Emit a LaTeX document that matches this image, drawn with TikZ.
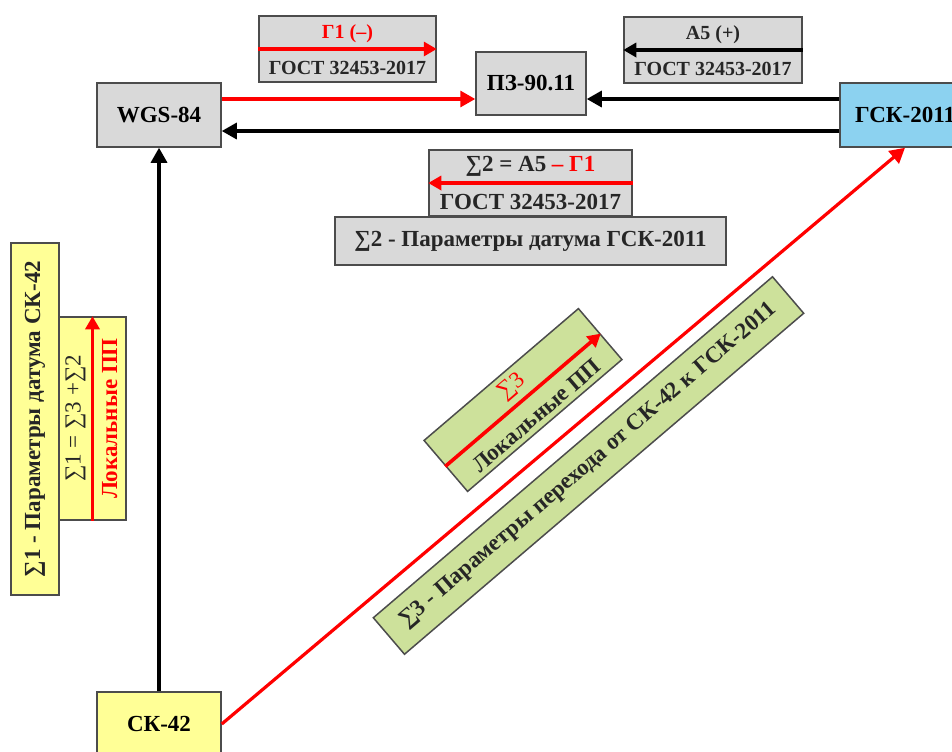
\documentclass[tikz,border=0pt]{standalone}
\usepackage{fontspec}
\setmainfont{Liberation Serif}
\usetikzlibrary{arrows.meta,calc}

\definecolor{boxgray}{RGB}{217,217,217}
\definecolor{skyellow}{RGB}{255,255,150}
\definecolor{gskblue}{RGB}{140,210,240}
\definecolor{lpgreen}{RGB}{205,225,155}
\definecolor{txtdark}{RGB}{38,38,38}

\begin{document}
\begin{tikzpicture}[x=0.5pt,y=0.5pt,
	sqnode/.style={rectangle, draw=black!70, fill=boxgray, line width=0.75pt, inner sep=1pt, font=\fontsize{11.5}{13}\selectfont\bfseries},
	lblbox/.style={rectangle, draw=black!70, fill=boxgray, line width=0.75pt, inner sep=0pt},
	lbltxt/.style={inner sep=0pt, text=txtdark, font=\fontsize{10}{12}\selectfont\bfseries},
	bigtxt/.style={inner sep=0pt, text=txtdark, font=\fontsize{11.5}{13}\selectfont\bfseries},
	mainarr/.style={line width=1.6pt, -{Triangle[length=7.5pt,width=8pt]}},
	lblarr/.style={line width=1.8pt, -{Triangle[length=6.5pt,width=7pt]}}]
	\useasboundingbox (0,0) rectangle (952,-751);
	\clip (0,0) rectangle (952,-751);

	% coordinate systems
	\node[sqnode, minimum width=62pt, minimum height=32pt] (wgs) at (159,-115) {WGS-84};
	\node[sqnode, minimum width=55pt, minimum height=31.5pt] (pz) at (531,-83.5) {ПЗ-90.11};
	\node[sqnode, fill=gskblue, minimum width=65pt, minimum height=32pt] (gsk) at (905,-115) {ГСК-2011};
	\node[sqnode, fill=skyellow, minimum width=62pt, minimum height=32pt] (sk) at (159,-724) {СК-42};

	% GOST labels on top
	\node[lblbox, minimum width=88.5pt, minimum height=33pt] (g1box) at (347.5,-49) {};
	\node[lbltxt, text=red] (g1txt) at ($(g1box.center)!.45!(g1box.north)$) {Г1 (–)};
	\node[lbltxt] (g1gost) at ($(g1box.center)!.55!(g1box.south)$) {ГОСТ 32453-2017};
	\draw[lblarr, red] (g1box.west) -- (g1box.east);

	\node[lblbox, minimum width=89pt, minimum height=33pt] (a5box) at (713,-50) {};
	\node[lbltxt] (a5txt) at ($(a5box.center)!.45!(a5box.north)$) {А5 (+)};
	\node[lbltxt] (a5gost) at ($(a5box.center)!.55!(a5box.south)$) {ГОСТ 32453-2017};
	\draw[lblarr] (a5box.east) -- (a5box.west);

	% sum 2
	\node[lblbox, minimum width=101.5pt, minimum height=33pt] (s2box) at (530.5,-183) {};
	\node[bigtxt] (s2txt) at ($(s2box.center)!.5!(s2box.north)$) {∑2 = А5 \textcolor{red}{– Г1}};
	\node[bigtxt] (s2gost) at ($(s2box.center)!.55!(s2box.south)$) {ГОСТ 32453-2017};
	\draw[lblarr, red] (s2box.east) -- (s2box.west);
	\node[lblbox, minimum width=195.5pt, minimum height=24pt, font=\fontsize{11.5}{13}\selectfont\bfseries, text=txtdark] (s2par) at (530.5,-241) {∑2 - Параметры датума ГСК-2011};

	% sum 1
	\node[lblbox, fill=skyellow, rotate=90, minimum width=176pt, minimum height=24pt, font=\fontsize{11.5}{13}\selectfont\bfseries, text=txtdark] (s1par) at (35,-419) {∑1 - Параметры датума СК-42};
	\node[lblbox, fill=skyellow, rotate=90, minimum width=101.5pt, minimum height=33.5pt] (s1loc) at (92.5,-418.5) {};
	\node[bigtxt, rotate=90, font=\fontsize{11.5}{13}\selectfont] (s1txt) at ($(s1loc.center)!.5!(s1loc.north)$) {∑1 = ∑3 +∑2};
	\node[bigtxt, rotate=90, text=red] (s1pp) at ($(s1loc.center)!.5!(s1loc.south)$) {Локальные ПП};
	\draw[lblarr, red] (s1loc.west) -- (s1loc.east);

	% sum 3
	\node[lblbox, fill=lpgreen, rotate=40.5, minimum width=262.5pt, minimum height=24pt, font=\fontsize{11.5}{13}\selectfont\bfseries, text=txtdark] (s3par) at (588.5,-465.5) {∑3 - Параметры перехода от СК-42 к ГСК-2011};
	\node[lblbox, fill=lpgreen, rotate=40.5, minimum width=101.5pt, minimum height=33.5pt] (s3loc) at (523,-400) {};
	\node[bigtxt, rotate=40.5, text=red, font=\fontsize{11.5}{13}\selectfont] (s3txt) at ($(s3loc.center)!.5!(s3loc.north)$) {∑3};
	\node[bigtxt, rotate=40.5] (s3pp) at ($(s3loc.center)!.6!(s3loc.south)$) {Локальные ПП};
	\draw[lblarr, red] (s3loc.west) -- (s3loc.east);

	% transformations
	\draw[mainarr, red] ([yshift=8pt]wgs.east) -- ([yshift=8pt]wgs.east -| pz.west);
	\draw[mainarr] ([yshift=8pt]gsk.west) -- ([yshift=8pt]gsk.west -| pz.east);
	\draw[mainarr] ([yshift=-8pt]gsk.west) -- ([yshift=-8pt]wgs.east);
	\draw[mainarr] (sk.north) -- (wgs.south);
	\draw[mainarr, red] (sk.east) -- (gsk.south);
\end{tikzpicture}
\end{document}
